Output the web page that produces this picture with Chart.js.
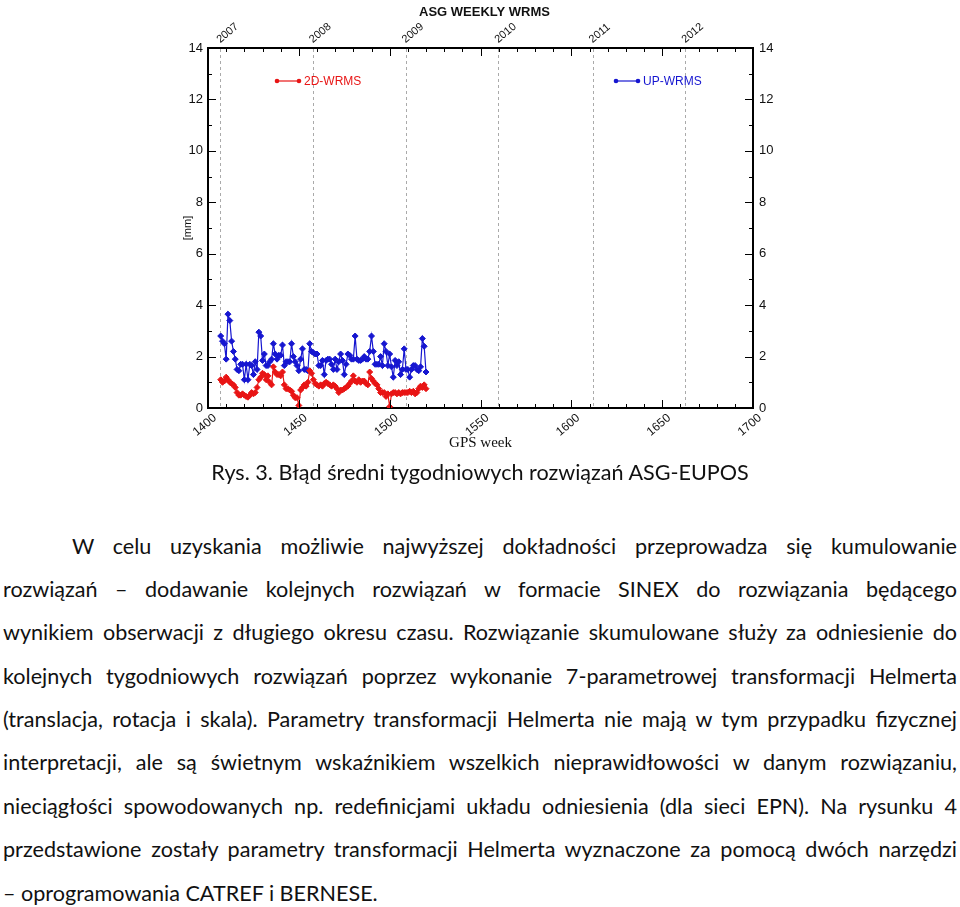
<!DOCTYPE html>
<html>
<head>
<meta charset="utf-8">
<script src="https://cdn.jsdelivr.net/npm/chart.js@4"></script>
<style>
  html, body { margin: 0; padding: 0; background: #fff; }
  body { width: 960px; height: 907px; position: relative; overflow: hidden; }
  #wrap { position: absolute; left: 0; top: 0; width: 960px; height: 460px; }
  .txt { position: absolute; font-family: Lato, "Open Sans", sans-serif; color: #111; white-space: nowrap; line-height: 30px; height: 30px; }
  #caption { left: 0; width: 960px; top: 457px; text-align: center; }
</style>
</head>
<body>
<div id="wrap"><canvas id="myChart"></canvas></div>

<div id="caption" class="txt">Rys. 3. Błąd średni tygodniowych rozwiązań ASG-EUPOS</div>
<div class="txt ln" data-left="72" data-right="957" data-y="546">W celu uzyskania możliwie najwyższej dokładności przeprowadza się kumulowanie</div>
<div class="txt ln" data-left="3" data-right="957" data-y="589">rozwiązań – dodawanie kolejnych rozwiązań w formacie SINEX do rozwiązania będącego</div>
<div class="txt ln" data-left="3" data-right="957" data-y="632">wynikiem obserwacji z długiego okresu czasu. Rozwiązanie skumulowane służy za odniesienie do</div>
<div class="txt ln" data-left="3" data-right="957" data-y="676">kolejnych tygodniowych rozwiązań poprzez wykonanie 7-parametrowej transformacji Helmerta</div>
<div class="txt ln" data-left="3" data-right="957" data-y="719">(translacja, rotacja i skala). Parametry transformacji Helmerta nie mają w tym przypadku fizycznej</div>
<div class="txt ln" data-left="3" data-right="957" data-y="762">interpretacji, ale są świetnym wskaźnikiem wszelkich nieprawidłowości w danym rozwiązaniu,</div>
<div class="txt ln" data-left="3" data-right="957" data-y="806">nieciągłości spowodowanych np. redefinicjami układu odniesienia (dla sieci EPN). Na rysunku 4</div>
<div class="txt ln" data-left="3" data-right="957" data-y="849">przedstawione zostały parametry transformacji Helmerta wyznaczone za pomocą dwóch narzędzi</div>
<div class="txt ln" data-left="3" data-y="893">– oprogramowania CATREF i BERNESE.</div>

<script>
// GPS weeks of the weekly solutions
const weeks = [
  1407, 1408, 1409, 1410, 1411, 1412, 1413, 1414, 1415, 1416,
  1417, 1418, 1419, 1420, 1421, 1422, 1423, 1424, 1425, 1426,
  1427, 1428, 1429, 1430, 1431, 1432, 1433, 1434, 1435, 1436,
  1437, 1438, 1439, 1440, 1441, 1442, 1443, 1444, 1445, 1446,
  1447, 1448, 1449, 1450, 1451, 1452, 1453, 1454, 1455, 1456,
  1457, 1458, 1459, 1460, 1461, 1462, 1463, 1464, 1465, 1466,
  1467, 1468, 1469, 1470, 1471, 1472, 1473, 1474, 1475, 1476,
  1477, 1478, 1479, 1480, 1481, 1482, 1483, 1484, 1485, 1486,
  1487, 1488, 1489, 1490, 1491, 1492, 1493, 1494, 1495, 1496,
  1497, 1498, 1499, 1500, 1501, 1502, 1503, 1504, 1505, 1506,
  1507, 1508, 1509, 1510, 1511, 1512, 1513, 1514, 1515, 1516,
  1517, 1518, 1519, 1520
];

// 2D-WRMS [mm]
const wrms2d = [
  1.1, 1.0, 1.05, 1.2, 1.1, 1.0, 0.95, 0.9, 0.8, 0.6,
  0.5, 0.5, 0.55, 0.5, 0.45, 0.42, 0.5, 0.6, 0.55, 0.6,
  0.8, 1.1, 1.2, 1.35, 1.3, 1.1, 1.25, 1.0, 0.9, 1.6,
  1.4, 1.3, 1.3, 1.25, 1.4, 0.9, 0.75, 0.75, 0.7, 0.65,
  0.5, 0.4, 0.4, 0.1, 0.7, 0.8, 0.9, 0.85, 1.0, 1.45,
  1.35, 1.1, 0.95, 0.9, 0.85, 0.9, 0.85, 0.95, 1.0, 0.95,
  0.9, 0.85, 0.9, 0.85, 0.75, 0.6, 0.7, 0.7, 0.75, 0.8,
  0.85, 0.95, 1.05, 1.25, 1.05, 1.0, 1.1, 1.0, 1.05, 1.05,
  0.95, 0.9, 1.4, 1.15, 1.05, 0.95, 0.9, 0.75, 0.6, 0.6,
  0.6, 0.45, 0.55, 0.05, 0.55, 0.6, 0.6, 0.55, 0.6, 0.55,
  0.6, 0.6, 0.6, 0.6, 0.65, 0.6, 0.65, 0.55, 0.6, 0.75,
  0.85, 0.8, 0.9, 0.75
];

// UP-WRMS [mm]
const wrmsUp = [
  2.8, 2.6, 2.5, 1.9, 3.65, 3.4, 2.6, 2.2, 1.9, 1.5,
  1.45, 1.7, 1.7, 1.1, 1.7, 1.1, 1.7, 1.65, 1.3, 1.8,
  1.5, 2.95, 2.8, 1.85, 2.1, 1.65, 1.65, 1.8, 1.9, 2.5,
  2.1, 1.9, 2.05, 2.05, 2.45, 1.65, 1.8, 1.8, 1.8, 2.5,
  2.0, 1.8, 1.65, 1.45, 1.9, 2.3, 1.5, 1.5, 1.45, 2.5,
  2.2, 2.15, 2.1, 2.1, 1.65, 1.65, 1.85, 1.3, 1.85, 1.9,
  1.9, 1.7, 1.5, 1.9, 1.5, 1.8, 2.1, 1.85, 1.3, 1.7,
  2.1, 2.05, 1.9, 1.9, 2.8, 1.9, 1.85, 1.85, 1.9, 2.0,
  1.9, 1.9, 2.2, 2.8, 2.2, 1.7, 1.7, 1.7, 2.0, 1.65,
  2.5, 2.2, 1.65, 2.1, 1.6, 1.2, 1.85, 1.65, 1.8, 1.3,
  1.5, 2.3, 1.5, 1.5, 1.2, 1.5, 1.65, 1.65, 1.5, 1.45,
  1.6, 2.7, 2.4, 1.4
];

// year boundaries on the top axis (GPS week)
const yearWeeks = [1407, 1458, 1509, 1560, 1612, 1663];
const yearLabels = ['2007', '2008', '2009', '2010', '2011', '2012'];

const RED = '#e81515';
const BLUE = '#1616d0';
const SANS = '"Liberation Sans", Arial, sans-serif';

const frame = {
  id: 'frame',
  afterDraw(chart) {
    const {ctx, chartArea: a, scales} = chart;
    ctx.save();
    ctx.strokeStyle = '#000';
    ctx.lineWidth = 1;
    ctx.beginPath();
    for (let v = 1400; v <= 1700; v += 10) {
      const px = Math.round(scales.x.getPixelForValue(v)) + 0.5;
      const len = v % 50 === 0 ? 8 : 4;
      ctx.moveTo(px, a.bottom); ctx.lineTo(px, a.bottom - len);
      ctx.moveTo(px, a.top); ctx.lineTo(px, a.top + len);
    }
    for (let v = 0; v <= 14; v++) {
      const py = Math.round(scales.y.getPixelForValue(v)) + 0.5;
      const len = v % 2 === 0 ? 8 : 4;
      ctx.moveTo(a.left, py); ctx.lineTo(a.left + len, py);
      ctx.moveTo(a.right, py); ctx.lineTo(a.right - len, py);
    }
    ctx.stroke();

    // legend entries inside the plot
    ctx.font = '12px ' + SANS;
    ctx.textBaseline = 'middle';
    const ly = a.top + 33;
    const items = [
      {x: a.left + 69, color: RED, text: '2D-WRMS'},
      {x: a.left + 408, color: BLUE, text: 'UP-WRMS'}
    ];
    items.forEach(it => {
      ctx.strokeStyle = it.color;
      ctx.fillStyle = it.color;
      ctx.lineWidth = 1.2;
      ctx.beginPath();
      ctx.moveTo(it.x, ly); ctx.lineTo(it.x + 22, ly);
      ctx.stroke();
      [it.x, it.x + 22].forEach(cx => {
        ctx.beginPath();
        ctx.arc(cx, ly, 2.3, 0, Math.PI * 2);
        ctx.fill();
      });
      ctx.fillText(it.text, it.x + 27, ly + 0.5);
    });
    ctx.restore();
  }
};

const ctx = document.getElementById('myChart');

new Chart(ctx, {
  type: 'line',
  data: {
    datasets: [
      {
        label: '2D-WRMS',
        data: weeks.map((w, i) => ({x: w, y: wrms2d[i]})),
        borderColor: RED,
        backgroundColor: RED,
        borderWidth: 1.2,
        pointStyle: 'rectRot',
        pointRadius: 3,
        pointBorderWidth: 1,
        xAxisID: 'x',
        yAxisID: 'y'
      },
      {
        label: 'UP-WRMS',
        data: weeks.map((w, i) => ({x: w, y: wrmsUp[i]})),
        borderColor: BLUE,
        backgroundColor: BLUE,
        borderWidth: 1.2,
        pointStyle: 'rectRot',
        pointRadius: 3,
        pointBorderWidth: 1,
        xAxisID: 'x',
        yAxisID: 'y'
      }
    ]
  },
  options: {
    responsive: true,
    maintainAspectRatio: false,
    animation: false,
    layout: {
      padding: {left: 181, right: 172, top: 0, bottom: 8}
    },
    plugins: {
      legend: {display: false},
      tooltip: {enabled: false},
      title: {
        display: true,
        text: 'ASG WEEKLY WRMS',
        color: '#111',
        font: {family: SANS, size: 13, weight: 'bold'},
        padding: {top: 5, bottom: 0}
      }
    },
    scales: {
      x: {
        type: 'linear',
        position: 'bottom',
        min: 1400,
        max: 1700,
        ticks: {
          stepSize: 50,
          minRotation: 40,
          maxRotation: 40,
          padding: 3,
          labelOffset: 7,
          color: '#111',
          font: {family: SANS, size: 12},
          callback: v => String(v)
        },
        grid: {display: false, drawTicks: false},
        border: {display: true, color: '#000', width: 2},
        title: {
          display: true,
          text: 'GPS week',
          color: '#111',
          padding: 0,
          font: {family: '"Liberation Serif", "Times New Roman", serif', size: 15}
        },
        afterFit(scale) { scale.height = 44; }
      },
      x2: {
        type: 'linear',
        position: 'top',
        min: 1400,
        max: 1700,
        afterBuildTicks(scale) {
          scale.ticks = yearWeeks.map(v => ({value: v}));
        },
        ticks: {
          minRotation: 40,
          maxRotation: 40,
          padding: 2,
          labelOffset: 6,
          color: '#111',
          font: {family: SANS, size: 11},
          callback: (v, i) => yearLabels[i]
        },
        grid: {display: true, drawOnChartArea: true, drawTicks: false, color: '#aaa', lineWidth: 1},
        border: {display: true, color: '#000', width: 2, dash: [3, 3]},
        afterFit(scale) { scale.height = 27.4; }
      },
      y: {
        position: 'left',
        min: 0,
        max: 14,
        ticks: {
          stepSize: 2,
          padding: 5,
          color: '#111',
          font: {family: SANS, size: 13}
        },
        grid: {display: false, drawTicks: false},
        border: {display: true, color: '#000', width: 2},
        title: {
          display: true,
          text: '[mm]',
          color: '#111',
          padding: 0,
          font: {family: SANS, size: 11}
        },
        afterFit(scale) { scale.width = 27; }
      },
      y2: {
        position: 'right',
        min: 0,
        max: 14,
        ticks: {
          stepSize: 2,
          padding: 6,
          color: '#111',
          font: {family: SANS, size: 13}
        },
        grid: {display: false, drawTicks: false},
        border: {display: true, color: '#000', width: 2},
        afterFit(scale) { scale.width = 35; }
      }
    }
  },
  plugins: [frame]
});

// page text: fit caption size, then justify each line with word spacing
const cap = document.getElementById('caption');
const probe = document.createElement('span');
probe.textContent = cap.textContent;
probe.style.cssText = 'position:absolute;visibility:hidden;white-space:nowrap;font-family:Lato,"Open Sans",sans-serif;font-size:20px';
document.body.appendChild(probe);
const fontSize = 20 * 538 / probe.getBoundingClientRect().width;
probe.remove();
cap.style.fontSize = fontSize + 'px';

document.querySelectorAll('.ln').forEach(el => {
  el.style.fontSize = fontSize + 'px';
  const left = +el.dataset.left;
  el.style.left = left + 'px';
  el.style.top = (+el.dataset.y - 15) + 'px';
  if (el.dataset.right) {
    const target = +el.dataset.right - left;
    const w = el.getBoundingClientRect().width;
    const gaps = (el.textContent.match(/ /g) || []).length;
    el.style.wordSpacing = ((target - w) / gaps) + 'px';
  }
});
</script>
</body>
</html>
